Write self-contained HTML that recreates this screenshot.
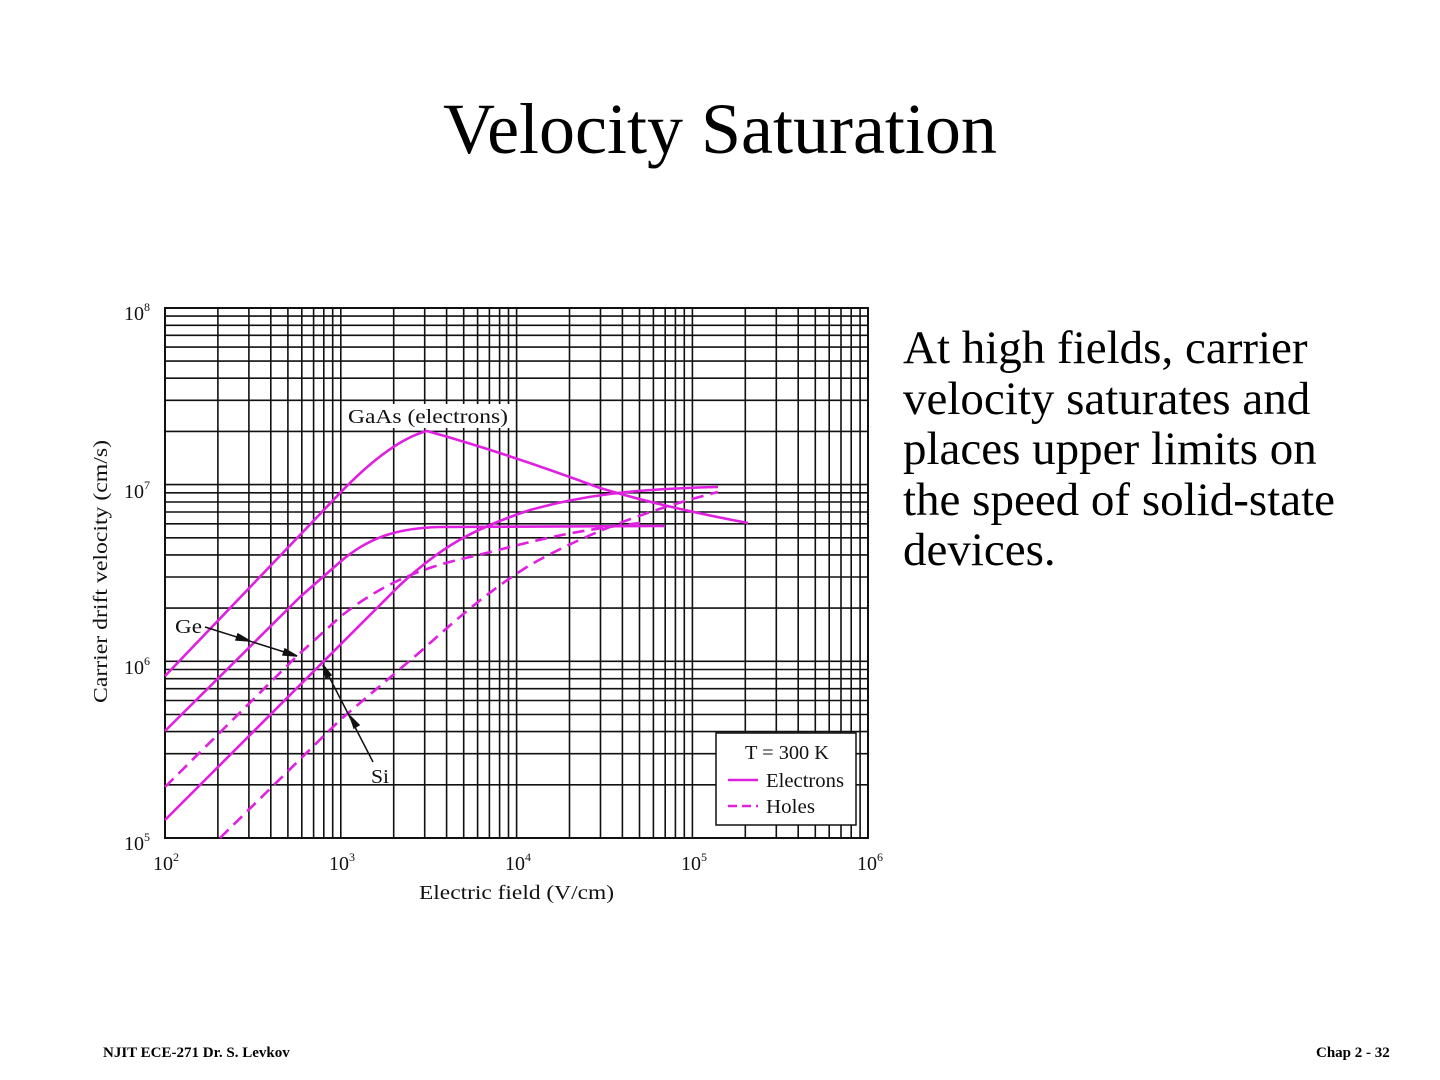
<!DOCTYPE html>
<html><head><meta charset="utf-8"><style>
html,body{margin:0;padding:0;background:#fff;}
body{width:1440px;height:1080px;position:relative;overflow:hidden;font-family:"Liberation Serif",serif;}
.t{position:absolute;left:0;width:1440px;text-align:center;top:88px;font-size:72px;color:#000;}
.p{position:absolute;left:903px;top:323px;font-size:47px;line-height:50.5px;color:#000;white-space:nowrap;}
.f{position:absolute;top:1045px;font-size:15px;font-weight:bold;}
</style></head><body>
<div class="t">Velocity Saturation</div>
<div class="p">At high fields, carrier<br>velocity saturates and<br>places upper limits on<br>the speed of solid-state<br>devices.</div>
<div class="f" style="left:103px">NJIT ECE-271 Dr. S. Levkov</div>
<div class="f" style="left:1316px">Chap 2 - 32</div>
<svg width="1440" height="1080" style="position:absolute;left:0;top:0" xmlns="http://www.w3.org/2000/svg">
<g stroke="#111" stroke-width="1.6" fill="none">
<rect x="165" y="308" width="703" height="530" stroke-width="2"/>
<path d="M217.9 308V838M248.9 308V838M270.8 308V838M287.9 308V838M301.8 308V838M313.6 308V838M323.8 308V838M332.7 308V838M340.8 308V838
M393.7 308V838M424.7 308V838M446.6 308V838M463.7 308V838M477.6 308V838M489.4 308V838M499.6 308V838M508.5 308V838M516.6 308V838
M569.5 308V838M600.5 308V838M622.4 308V838M639.5 308V838M653.4 308V838M665.2 308V838M675.4 308V838M684.3 308V838M692.4 308V838
M745.3 308V838M776.3 308V838M798.2 308V838M815.3 308V838M829.2 308V838M841 308V838M851.2 308V838M860.1 308V838"/>
<path d="M165 784.8H868M165 753.7H868M165 731.6H868M165 714.5H868M165 700.5H868M165 688.7H868M165 678.7H868M165 669.5H868M165 661.3H868
M165 608.1H868M165 577H868M165 554.9H868M165 537.8H868M165 523.8H868M165 512H868M165 502H868M165 492.8H868M165 484.6H868
M165 431.4H868M165 400.3H868M165 378.2H868M165 361.1H868M165 347.1H868M165 335.3H868M165 325.3H868M165 316.1H868"/>
</g>
<rect x="344" y="404" width="168" height="24" fill="#fff"/>
<g stroke="#e020e0" stroke-width="2.6" fill="none" stroke-linejoin="round">
<path d="M165 676 L300 535 L340 493 C370 462 400 438 427 431 C470 443 530 462 600 488 C650 503 700 514 748 523"/>
<path d="M165 731 L300 597 L340 562 C370 536 400 528 440 527 L665 526"/>
<path d="M165 820 L400 585 C440 548 470 530 530 510 C580 496 630 489 718 487"/>
<path stroke-dasharray="12 7" d="M165 787 L297 656 L340 617 C380 585 420 568 470 557 C520 545 560 532 640 523"/>
<path stroke-dasharray="12 7" d="M220 838 L340 720 L420 652 C460 616 490 590 530 565 C580 537 640 512 718 492"/>
</g>
<g stroke="#111" stroke-width="1.5" fill="#111">
<path d="M205 627 L297 656" fill="none"/>
<path d="M250 641 L238 634 L236 640Z"/><path d="M297 656 L285 649 L283 655Z"/>
<path d="M373 762 L323 665" fill="none"/>
<path d="M350 716 L354 728 L359 725Z"/><path d="M323 665 L326 678 L331 675Z"/>
</g>
<rect x="716" y="733" width="140" height="92" fill="#fff" stroke="#111" stroke-width="1.5"/>
<line x1="728" y1="780" x2="758" y2="780" stroke="#e020e0" stroke-width="2.6"/>
<line x1="728" y1="806" x2="758" y2="806" stroke="#e020e0" stroke-width="2.6" stroke-dasharray="9 5"/>
<g font-family="Liberation Serif, serif" fill="#111" font-size="20">
<text x="745" y="759" textLength="84" lengthAdjust="spacingAndGlyphs">T = 300 K</text>
<text x="766" y="787" textLength="78" lengthAdjust="spacingAndGlyphs">Electrons</text>
<text x="766" y="813" textLength="49" lengthAdjust="spacingAndGlyphs">Holes</text>
<text x="348" y="423" textLength="160" lengthAdjust="spacingAndGlyphs">GaAs (electrons)</text>
<text x="175" y="633" textLength="27" lengthAdjust="spacingAndGlyphs">Ge</text>
<text x="371" y="783" textLength="18" lengthAdjust="spacingAndGlyphs">Si</text>
<text x="419" y="899" textLength="195" lengthAdjust="spacingAndGlyphs">Electric field (V/cm)</text>
<text transform="translate(107,703) rotate(-90)" textLength="263" lengthAdjust="spacingAndGlyphs">Carrier drift velocity (cm/s)</text>
<text x="153" y="870">10<tspan font-size="12" dy="-9">2</tspan></text>
<text x="329" y="870">10<tspan font-size="12" dy="-9">3</tspan></text>
<text x="505" y="870">10<tspan font-size="12" dy="-9">4</tspan></text>
<text x="681" y="870">10<tspan font-size="12" dy="-9">5</tspan></text>
<text x="857" y="870">10<tspan font-size="12" dy="-9">6</tspan></text>
<text x="124" y="320">10<tspan font-size="12" dy="-9">8</tspan></text>
<text x="124" y="498">10<tspan font-size="12" dy="-9">7</tspan></text>
<text x="124" y="674">10<tspan font-size="12" dy="-9">6</tspan></text>
<text x="124" y="850">10<tspan font-size="12" dy="-9">5</tspan></text>
</g>
</svg>
</body></html>
